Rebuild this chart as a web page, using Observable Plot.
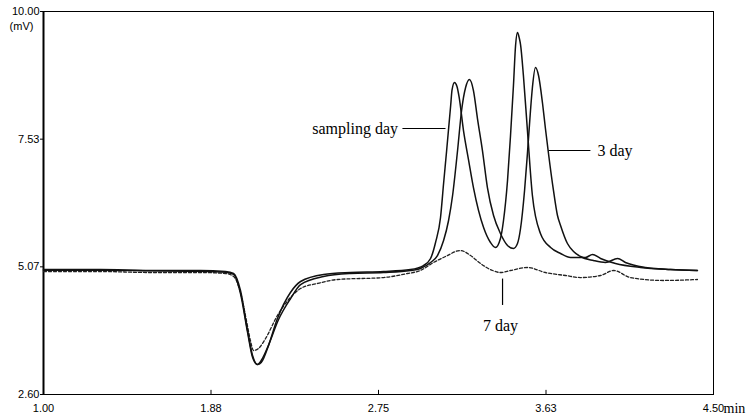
<!DOCTYPE html>
<html>
<head>
<meta charset="utf-8">
<script src="https://cdn.jsdelivr.net/npm/d3@7"></script>
<script src="https://cdn.jsdelivr.net/npm/@observablehq/plot@0.6"></script>
<style>
  html, body { margin: 0; padding: 0; background: #fff; }
  #chart { width: 754px; height: 419px; }
</style>
</head>
<body>
<div id="chart"></div>
<script>
// ---- tick labels ----
const xTicks = [1.0, 1.875, 2.75, 3.625, 4.5];
const xTickLabels = ["1.00", "1.88", "2.75", "3.63", "4.50"];
const yTicks = [2.6, 5.0667, 7.5333, 10.0];
const yTickLabels = ["2.60", "5.07", "7.53", "10.00"];

// ---- series: sampling day (time in min, signal in mV) ----
const samplingT = [1.000,1.298,1.559,1.820,1.951,1.993,2.029,2.066,2.092,2.118,2.144,2.170,2.222,2.290,2.343,2.463,2.604,2.776,2.917,2.985,3.022,3.048,3.074,3.090,3.106,3.127,3.134,3.147,3.160,3.171,3.194,3.221,3.246,3.299,3.335,3.361,3.387,3.403,3.424,3.439,3.455,3.466,3.476,3.486,3.492,3.507,3.528,3.554,3.596,3.649,3.701,3.753,3.831,3.868,3.910,3.988,4.119,4.275,4.416];
const samplingV = [5.015,5.015,4.996,4.996,4.976,4.938,4.609,3.837,3.353,3.180,3.257,3.489,4.068,4.571,4.783,4.918,4.957,4.976,5.015,5.092,5.228,5.537,6.020,6.677,7.314,8.183,8.480,8.628,8.550,8.350,7.700,7.121,6.599,5.826,5.537,5.440,5.614,5.962,6.735,7.565,8.570,9.343,9.594,9.478,9.360,8.763,7.700,6.445,5.711,5.440,5.324,5.247,5.247,5.305,5.228,5.131,5.054,5.015,4.996];

// ---- series: 3 day ----
const day3T = [1.000,1.298,1.559,1.820,1.951,1.993,2.029,2.066,2.092,2.118,2.144,2.175,2.228,2.290,2.343,2.463,2.604,2.776,2.917,2.969,3.022,3.058,3.090,3.116,3.137,3.163,3.184,3.205,3.225,3.246,3.267,3.293,3.319,3.351,3.387,3.424,3.455,3.476,3.492,3.513,3.528,3.544,3.554,3.570,3.586,3.607,3.622,3.638,3.664,3.685,3.701,3.737,3.769,3.805,3.873,3.936,3.999,4.040,4.145,4.275,4.416];
const day3V = [5.000,5.000,4.990,4.980,4.960,4.920,4.550,3.800,3.320,3.180,3.300,3.550,4.050,4.450,4.725,4.880,4.938,4.957,4.996,5.034,5.150,5.285,5.575,5.962,6.445,7.314,8.087,8.531,8.686,8.473,7.932,7.314,6.599,6.058,5.711,5.479,5.421,5.517,5.807,6.541,7.256,8.087,8.531,8.918,8.763,8.222,7.739,7.256,6.542,6.058,5.866,5.517,5.363,5.266,5.189,5.150,5.228,5.150,5.054,5.015,4.996];

// ---- series: 7 day ----
const day7T = [1.000,1.298,1.559,1.820,1.951,1.993,2.029,2.060,2.081,2.097,2.123,2.160,2.222,2.290,2.343,2.431,2.536,2.776,2.902,2.969,3.037,3.100,3.178,3.231,3.283,3.346,3.387,3.440,3.528,3.622,3.727,3.805,3.910,3.978,4.066,4.238,4.416];
const day7V = [4.976,4.976,4.957,4.957,4.938,4.880,4.571,4.030,3.643,3.450,3.489,3.682,4.126,4.474,4.648,4.745,4.822,4.860,4.938,4.996,5.150,5.266,5.382,5.285,5.131,4.996,4.957,4.996,5.054,4.957,4.899,4.860,4.899,4.996,4.860,4.803,4.822];

// ---- annotations (label, time, signal) ----
const labelNames = ["sampling day", "3 day", "7 day"];
const labelT = [2.852, 3.894, 3.387];
const labelV = [7.739, 7.314, 3.933];
const labelAnchor = ["end", "start", "middle"];
const leaderT1 = [2.875, 3.638, 3.398];
const leaderT2 = [3.100, 3.857, 3.398];
const leaderV1 = [7.739, 7.314, 4.840];
const leaderV2 = [7.739, 7.314, 4.330];

function zip(ts, vs) { return ts.map((t, i) => ({t, v: vs[i]})); }
const sampling = zip(samplingT, samplingV);
const day3 = zip(day3T, day3V);
const day7 = zip(day7T, day7V);
const labels = labelNames.map((name, i) => ({name, t: labelT[i], v: labelV[i], anchor: labelAnchor[i]}));
const leaders = labelNames.map((name, i) => ({t1: leaderT1[i], t2: leaderT2[i], v1: leaderV1[i], v2: leaderV2[i]}));

const serif = "'Liberation Serif', 'Times New Roman', serif";
const labelMarks = ["start", "middle", "end"].map(a =>
  Plot.text(labels.filter(d => d.anchor === a), {x: "t", y: "v", text: "name", textAnchor: a, fontFamily: serif, fontSize: 16, fill: "#000"})
);

const chart = Plot.plot({
  width: 754,
  height: 419,
  marginLeft: 43,
  marginRight: 41,
  marginTop: 11,
  marginBottom: 25,
  style: {fontFamily: "'Liberation Sans', Arial, sans-serif", fontSize: "11px", color: "#000", background: "#fff"},
  x: {domain: [1, 4.5]},
  y: {domain: [2.6, 10.0]},
  marks: [
    Plot.frame({stroke: "#000", strokeWidth: 1}),
    Plot.ruleX([1], {stroke: "#000", strokeWidth: 2}),
    Plot.axisX({ticks: xTicks, tickFormat: (d, i) => xTickLabels[i], tickSize: 0, tickPadding: 10, label: null, fontSize: 11}),
    Plot.axisY({ticks: yTicks, tickFormat: (d, i) => yTickLabels[i], tickSize: 3, tickPadding: 1, label: null, fontSize: 11}),
    Plot.ruleX(xTicks.slice(1, 4), {y1: 2.6, y2: 2.68, stroke: "#000"}),
    Plot.text(["(mV)"], {x: 1, y: 10, dx: -22, dy: 15, text: d => d, fontSize: 11}),
    Plot.text(["min"], {x: 4.5, y: 2.6, dx: 10, dy: 14, text: d => d, textAnchor: "start", fontFamily: serif, fontSize: 14}),
    Plot.line(day7, {x: "t", y: "v", stroke: "#222", strokeWidth: 1.3, strokeDasharray: "3,2", curve: "monotone-x"}),
    Plot.line(day3, {x: "t", y: "v", stroke: "#111", strokeWidth: 1.5, curve: "monotone-x"}),
    Plot.line(sampling, {x: "t", y: "v", stroke: "#111", strokeWidth: 1.5, curve: "monotone-x"}),
    Plot.link(leaders, {x1: "t1", x2: "t2", y1: "v1", y2: "v2", stroke: "#000", strokeWidth: 1.2}),
    ...labelMarks
  ]
});
document.getElementById("chart").appendChild(chart);
</script>
</body>
</html>
